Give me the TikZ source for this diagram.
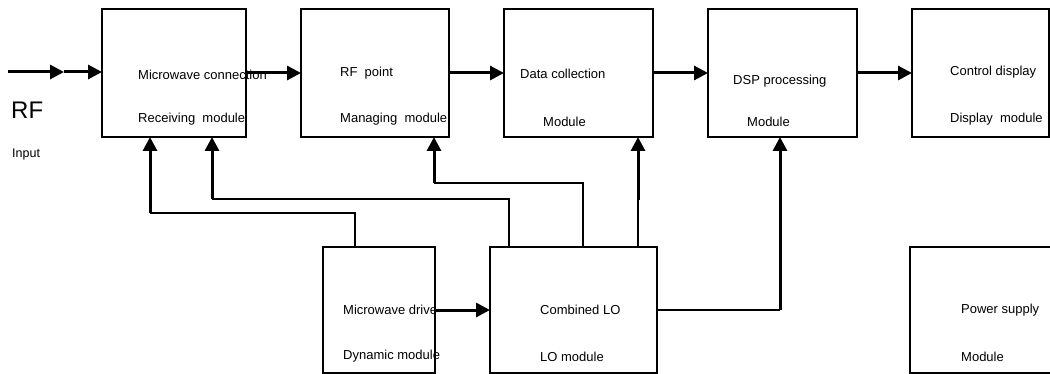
\documentclass[tikz,border=0pt]{standalone}
\usepackage{fontspec}
\setmainfont{Liberation Sans}
\usetikzlibrary{arrows.meta}
\begin{document}
\begin{tikzpicture}[x=1pt,y=-1pt,
  box/.style={draw,line width=1.2pt,inner sep=0pt,outer sep=0pt,minimum height=128pt},
  lbox/.style={draw,line width=1.2pt,inner sep=0pt,outer sep=0pt,minimum height=126pt},
  lbl/.style={anchor=west,inner sep=0pt,font=\fontsize{13}{15}\selectfont},
  wire/.style={line width=1.2pt},
  arr/.style={line width=3pt,-{Triangle[length=14pt,width=14pt]}}]
\useasboundingbox (0,0) rectangle (1050,374);
% top row
\node[box,minimum width=144pt] (b1) at (174,73) {};
\node[box,minimum width=148pt] (b2) at (375,73) {};
\node[box,minimum width=149pt] (b3) at (578.5,73) {};
\node[box,minimum width=149pt] (b4) at (782.5,73) {};
\node[box,minimum width=137pt] (b5) at (980.5,73) {};
% bottom row
\node[lbox,minimum width=112pt] (b6) at (379,310) {};
\node[lbox,minimum width=167pt] (b7) at (573.5,310) {};
\node[lbox,minimum width=145pt] (b8) at (982.5,310) {};
% labels
\node[lbl] (t1a) at (138,75) {Microwave connection};
\node[lbl] (t1b) at (138,119) {Receiving~~module};
\node[lbl] (t2a) at (340,72.7) {RF~~point};
\node[lbl] (t2b) at (340,119) {Managing~~module};
\node[lbl] (t3a) at (520,74) {Data collection};
\node[lbl] (t3b) at (543,121.5) {Module};
\node[lbl] (t4a) at (733,81.5) {DSP processing};
\node[lbl] (t4b) at (747,121.5) {Module};
\node[lbl] (t5a) at (950,71.7) {Control display};
\node[lbl] (t5b) at (950,119) {Display~~module};
\node[lbl] (t6a) at (343,310) {Microwave drive};
\node[lbl] (t6b) at (343,356.5) {Dynamic module};
\node[lbl] (t7a) at (540,310) {Combined LO};
\node[lbl] (t7b) at (540,356.5) {LO module};
\node[lbl] (t8a) at (961,310) {Power supply};
\node[lbl] (t8b) at (961,356.5) {Module};
\node[anchor=west,inner sep=0pt,font=\fontsize{24}{26}\selectfont] (rf) at (11,110) {RF};
\node[anchor=west,inner sep=0pt,font=\fontsize{12.5}{14}\selectfont] (inp) at (12,154) {Input};
% coordinates
\coordinate (rfin) at (8,72);
\coordinate (rfmid) at (64,72);
\coordinate (c1) at (150,213);
\coordinate (c2) at (212,199);
\coordinate (c3) at (434,183);
\coordinate (c4) at (638,200);
\coordinate (c5) at (780,310);
% main chain
\draw[arr] (rfin) -- (rfmid);
\draw[arr] (rfmid) -- (rfmid -| b1.west);
\draw[arr] (b1.east) -- (b2.west);
\draw[arr] (b2.east) -- (b3.west);
\draw[arr] (b3.east) -- (b4.west);
\draw[arr] (b4.east) -- (b5.west);
\draw[arr] (b6.east) -- (b7.west);
% feedback wires
\draw[wire] (b6.north west) ++(32,0) |- (c1);
\draw[arr] (c1) -- (c1 |- b1.south);
\draw[wire] (b7.north west) ++(19,0) |- (c2);
\draw[arr] (c2) -- (c2 |- b1.south);
\draw[wire] (b7.north west) ++(93,0) |- (c3);
\draw[arr] (c3) -- (c3 |- b2.south);
\draw[wire] (b7.north west) ++(148,0) -- (c4);
\draw[arr] (c4) -- (c4 |- b3.south);
\draw[wire] (b7.east) -- (c5);
\draw[arr] (c5) -- (c5 |- b4.south);
\end{tikzpicture}
\end{document}
